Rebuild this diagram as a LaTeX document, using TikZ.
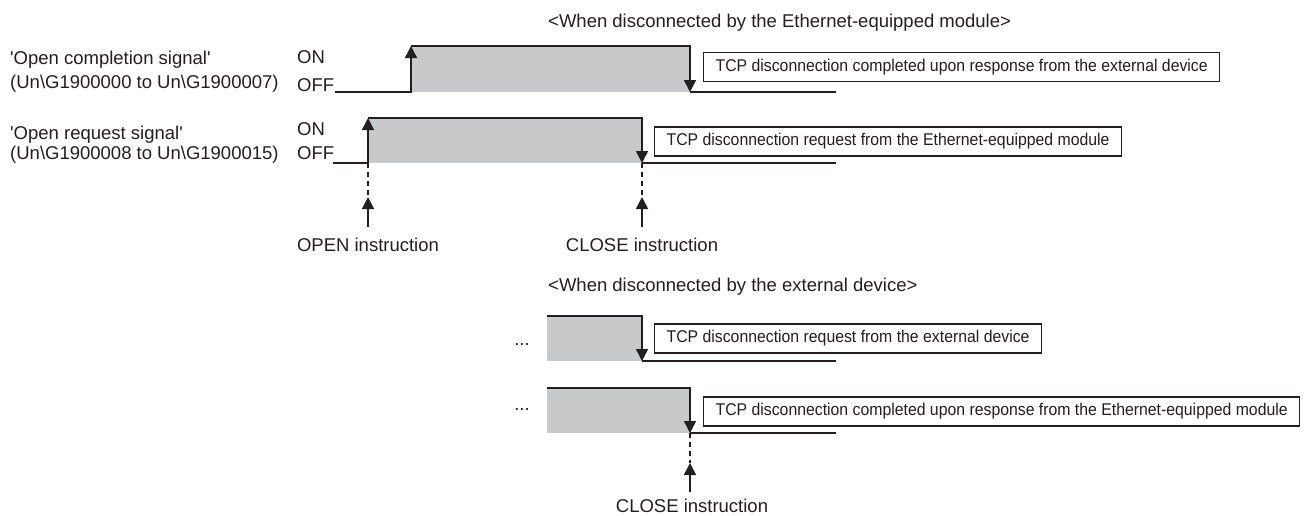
\documentclass[tikz,border=0pt]{standalone}
\usepackage{fontspec}
\setmainfont{Liberation Sans}[Ligatures=TeXOff]
\newfontfamily\boxfont{Liberation Sans}[FakeStretch=0.93,Ligatures=TeXOff]
\usetikzlibrary{arrows.meta}
\definecolor{sig}{RGB}{200,201,203}
\definecolor{ink}{RGB}{35,31,32}
\begin{document}
\begin{tikzpicture}[x=1pt,y=-1pt,
  every node/.style={text=ink,font=\fontsize{18.5}{22}\selectfont,inner sep=0pt},
  lbl/.style={anchor=base west},
  ctr/.style={anchor=base},
  wire/.style={draw=ink,line width=1.4pt,line join=miter},
  wirearrow/.style={wire,-{Triangle[length=12pt,width=12pt]}},
  callout/.style={draw=ink,line width=1.2pt,anchor=west,font=\boxfont\fontsize{17}{20}\selectfont,inner xsep=12pt,minimum height=29pt},
  guide/.style={draw=ink,line width=1.2pt,dash pattern=on 5pt off 4pt},
  pulse/.style={fill=sig}
]
\useasboundingbox (0,0) rectangle (1310,515);

% titles
\node[lbl] (t1) at (548,27) {<When disconnected by the Ethernet-equipped module>};
\node[lbl] (t2) at (548,291) {<When disconnected by the external device>};

% left labels
\node[lbl] (s1a) at (10,64) {'Open completion signal'};
\node[lbl] (s1b) at (10,88) {(Un\textbackslash G1900000 to Un\textbackslash G1900007)};
\node[lbl] (on1) at (297,63) {ON};
\node[lbl] (off1) at (297,91) {OFF};
\node[lbl] (s2a) at (10,139) {'Open request signal'};
\node[lbl] (s2b) at (10,159) {(Un\textbackslash G1900008 to Un\textbackslash G1900015)};
\node[lbl] (on2) at (297,135) {ON};
\node[lbl] (off2) at (297,159) {OFF};

% row 1
\fill[pulse] (411,46) rectangle (690,92);
\draw[wirearrow] (335,92) -- (411,92) -- (411,46);
\draw[wirearrow] (411,46) -- (690,46) -- (690,92);
\draw[wire] (690,92) -- (836,92);
\node[callout] (b1) at (703,67) {TCP disconnection completed upon response from the external device};

% row 2
\fill[pulse] (368,118) rectangle (642,163);
\draw[wirearrow] (333,163) -- (368,163) -- (368,118);
\draw[wirearrow] (368,118) -- (642,118) -- (642,163);
\draw[wire] (642,163) -- (836,163);
\node[callout] (b2) at (654,141.5) {TCP disconnection request from the Ethernet-equipped module};

% instructions
\coordinate (openlow) at (368,163);
\coordinate (opentip) at (368,197);
\coordinate (opentail) at (368,227);
\draw[guide] (openlow) -- (opentip);
\draw[wirearrow] (opentail) -- (opentip);
\node[ctr] (openi) at (368,251) {OPEN instruction};
\coordinate (closelow) at (642,163);
\coordinate (closetip) at (642,197);
\coordinate (closetail) at (642,227);
\draw[guide] (closelow) -- (closetip);
\draw[wirearrow] (closetail) -- (closetip);
\node[ctr] (closei) at (642,251) {CLOSE instruction};

% row 3
\node[ctr] (d3) at (522,345) {...};
\fill[pulse] (547,316) rectangle (642,361);
\draw[wirearrow] (547,316) -- (642,316) -- (642,361);
\draw[wire] (642,361) -- (836,361);
\node[callout] (b3) at (654,338.5) {TCP disconnection request from the external device};

% row 4
\node[ctr] (d4) at (522,410) {...};
\fill[pulse] (547,388) rectangle (690,433);
\draw[wirearrow] (547,388) -- (690,388) -- (690,433);
\draw[wire] (690,433) -- (836,433);
\node[callout] (b4) at (703,411.5) {TCP disconnection completed upon response from the Ethernet-equipped module};
\coordinate (close2low) at (690,433);
\coordinate (close2tip) at (690,463);
\coordinate (close2tail) at (690,492);
\draw[guide] (close2low) -- (close2tip);
\draw[wirearrow] (close2tail) -- (close2tip);
\node[ctr] (close2i) at (692,512) {CLOSE instruction};
\end{tikzpicture}
\end{document}
